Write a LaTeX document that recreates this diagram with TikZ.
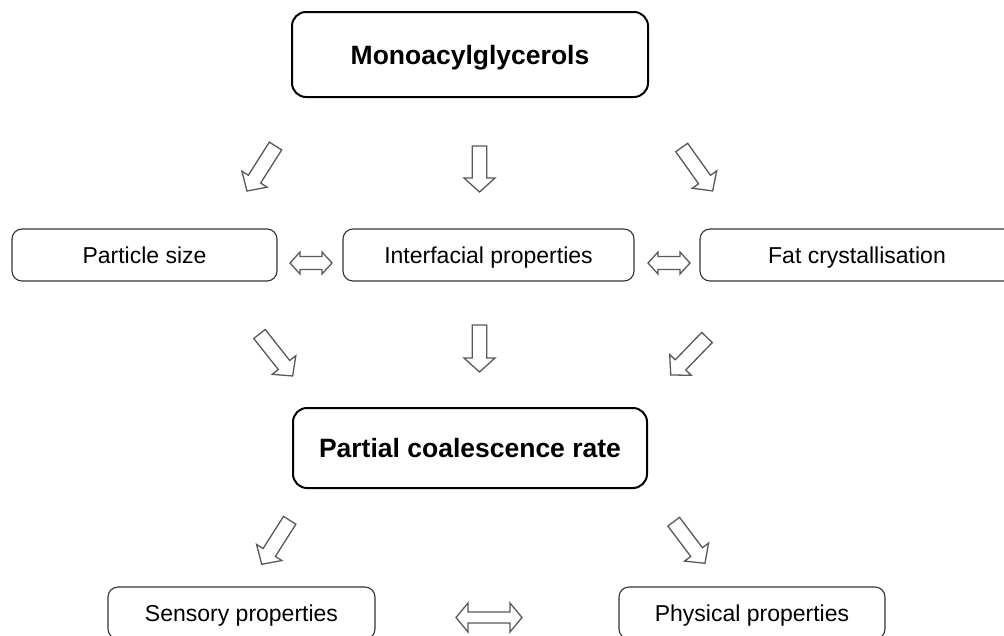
\documentclass[tikz,border=0pt]{standalone}
\usepackage{fontspec}
\setmainfont{Liberation Sans}
\usetikzlibrary{calc}

% hollow block arrow from a tail point to a tip point
% #1 tail, #2 tip, #3 shaft half width, #4 head half width, #5 head length
\newcommand\blockarrow[5]{%
  \draw[hollowarrow] let \p1=(#1), \p2=(#2),
      \n1={atan2(\y2-\y1,\x2-\x1)}, \n2={veclen(\x2-\x1,\y2-\y1)} in
    [shift={(\p1)}, rotate=\n1]
    (0,-#3) -- ({\n2-#5},-#3) -- ({\n2-#5},-#4) -- (\n2,0)
    -- ({\n2-#5},#4) -- ({\n2-#5},#3) -- (0,#3) -- cycle;}

% hollow horizontal double-headed arrow
% #1 left tip x, #2 right tip x, #3 centre y, #4 shaft half height,
% #5 head half height, #6 head length
\newcommand\doublearrow[6]{%
  \draw[hollowarrow] (#1,#3) -- ({#1+#6},{#3-#5}) -- ({#1+#6},{#3-#4})
    -- ({#2-#6},{#3-#4}) -- ({#2-#6},{#3-#5}) -- (#2,#3)
    -- ({#2-#6},{#3+#5}) -- ({#2-#6},{#3+#4}) -- ({#1+#6},{#3+#4})
    -- ({#1+#6},{#3+#5}) -- cycle;}

\begin{document}
\begin{tikzpicture}[x=1pt,y=-1pt,
  bigbox/.style={draw=black, line width=2pt, rounded corners=14pt,
    inner sep=0pt, text height=25pt, text depth=6pt,
    font=\fontsize{26.5}{32}\selectfont\bfseries},
  smallbox/.style={draw=black!80, line width=1.1pt, rounded corners=10pt,
    inner sep=0pt, minimum height=52pt, text height=21.5pt, text depth=5pt,
    font=\fontsize{23}{28}\selectfont},
  hollowarrow/.style={draw=black!65, line width=1.3pt, line join=miter,
    fill=white}]
\useasboundingbox (0,0) rectangle (1004,635);
\fill[white] (0,0) rectangle (1004,635);

% main boxes
\node[bigbox, minimum width=356pt, minimum height=85pt] (mono)
  at (470,54.5) {Monoacylglycerols};
\node[bigbox, minimum width=354pt, minimum height=80pt] (partial)
  at (470,448) {Partial coalescence rate};

% factor boxes
\node[smallbox, minimum width=265pt] (particle) at (144.5,255) {Particle size};
\node[smallbox, minimum width=291pt] (interf) at (488.5,255) {Interfacial properties};
\node[smallbox, minimum width=314pt] (fat) at (857,255) {Fat crystallisation};

% outcome boxes
\node[smallbox, minimum width=267pt] (sensory) at (241.5,613) {Sensory properties};
\node[smallbox, minimum width=266pt] (physical) at (752,613) {Physical properties};

% arrow end points
\coordinate (a1t) at (275.5,146);  \coordinate (a1h) at (247,191);
\coordinate (a2t) at (479.5,146);  \coordinate (a2h) at (479.5,192);
\coordinate (a3t) at (681.7,147.5);\coordinate (a3h) at (712.7,191);
\coordinate (b1t) at (259.5,334);  \coordinate (b1h) at (292.7,376);
\coordinate (b2t) at (479.5,325);  \coordinate (b2h) at (479.5,372);
\coordinate (b3t) at (707,337.5);  \coordinate (b3h) at (670.7,375);
\coordinate (c1t) at (289.7,520.3);\coordinate (c1h) at (261.7,564.3);
\coordinate (c2t) at (673.7,521.7);\coordinate (c2h) at (705,563.3);

% monoacylglycerols -> factors
\blockarrow{a1t}{a1h}{7.3}{15}{14}
\blockarrow{a2t}{a2h}{7.3}{15.5}{14}
\blockarrow{a3t}{a3h}{7.3}{15}{14}
% factors -> partial coalescence
\blockarrow{b1t}{b1h}{7.3}{15}{14}
\blockarrow{b2t}{b2h}{7.3}{15.5}{14}
\blockarrow{b3t}{b3h}{7.3}{15}{14}
% partial coalescence -> properties
\blockarrow{c1t}{c1h}{7.3}{15}{14}
\blockarrow{c2t}{c2h}{7.3}{15}{14}

% interactions
\doublearrow{290}{332}{263}{6.5}{11}{10}
\doublearrow{648}{690}{263}{6.5}{11}{10}
\doublearrow{456}{522}{617.5}{5.5}{14.5}{12}
\end{tikzpicture}
\end{document}
